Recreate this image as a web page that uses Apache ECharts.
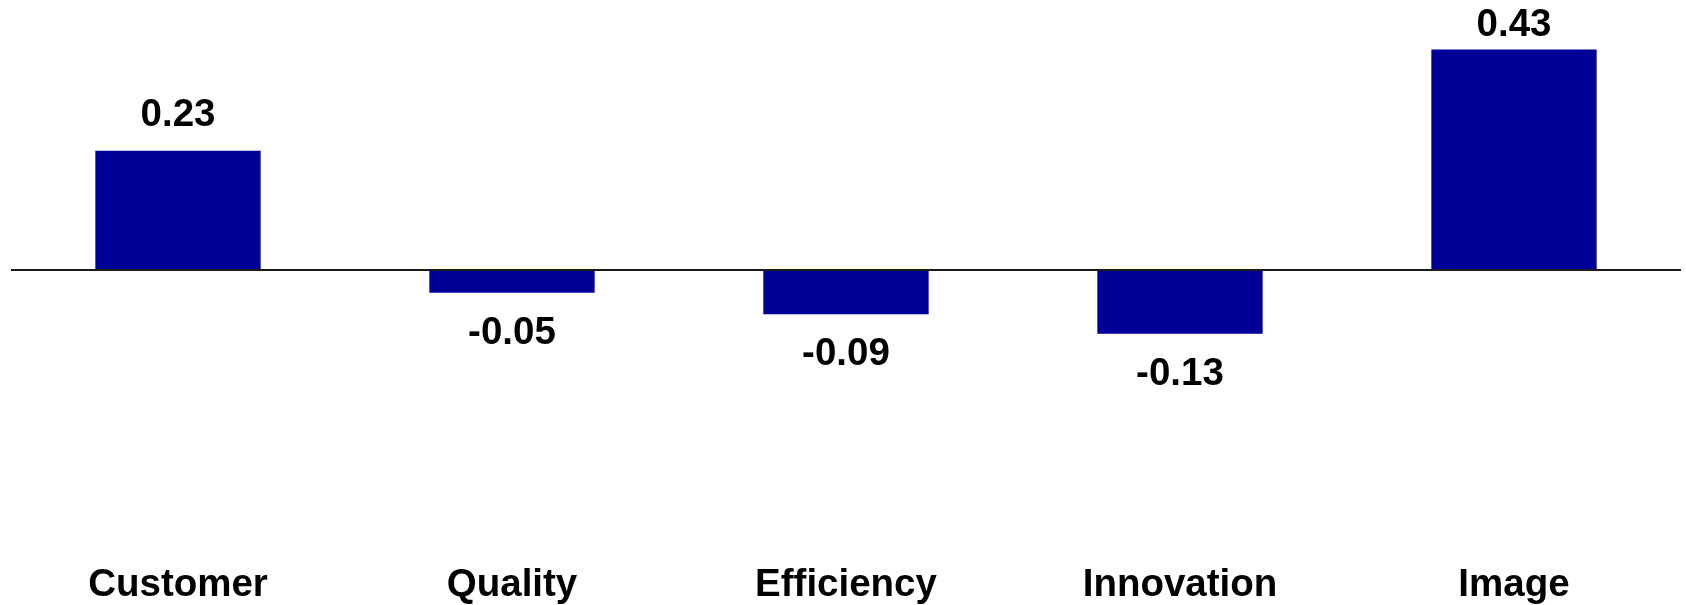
<!DOCTYPE html>
<html>
<head>
<meta charset="utf-8">
<script src="https://cdn.jsdelivr.net/npm/echarts@6/dist/echarts.min.js"></script>
<style>
  html, body { margin: 0; padding: 0; background: #ffffff; }
  #chart { width: 1686px; height: 605px; }
</style>
</head>
<body>
<div id="chart"></div>
<script>
const categories = ['Customer', 'Quality', 'Efficiency', 'Innovation', 'Image'];
const values = [0.232, -0.046, -0.088, -0.126, 0.43];

const FONT = '"Liberation Sans", Arial, sans-serif';
const chart = echarts.init(document.getElementById('chart'), null, { renderer: 'canvas' });

const maxValue = Math.max(...values);
const seriesData = values.map(v => {
  const item = { value: v };
  if (v === maxValue) {
    item.label = { distance: 5 };
  } else if (v < 0) {
    item.label = { distance: 21 };
  }
  return item;
});

chart.setOption({
  animation: false,
  backgroundColor: '#ffffff',
  grid: { left: 11, right: 5, top: 13.6, bottom: 75.6, containLabel: false },
  xAxis: {
    type: 'category',
    data: categories,
    axisLine: { show: false, onZero: false },
    axisTick: { show: false },
    splitLine: { show: false },
    axisLabel: {
      margin: 41,
      color: '#000000',
      fontFamily: FONT,
      fontWeight: 'bold',
      fontSize: 38.5
    }
  },
  yAxis: {
    type: 'value',
    min: -0.5,
    max: 0.5,
    show: false,
    splitLine: { show: false }
  },
  series: [{
    type: 'bar',
    data: seriesData,
    barWidth: '49.5%',
    itemStyle: { color: '#000099' },
    label: {
      show: true,
      position: 'outside',
      distance: 16,
      color: '#000000',
      fontFamily: FONT,
      fontWeight: 'bold',
      fontSize: 38.5,
      formatter: p => p.value.toFixed(2)
    },
    markLine: {
      silent: true,
      symbol: ['none', 'none'],
      label: { show: false },
      lineStyle: { color: '#1a1a1a', width: 2, type: 'solid' },
      data: [{ yAxis: 0 }]
    }
  }]
});
</script>
</body>
</html>
